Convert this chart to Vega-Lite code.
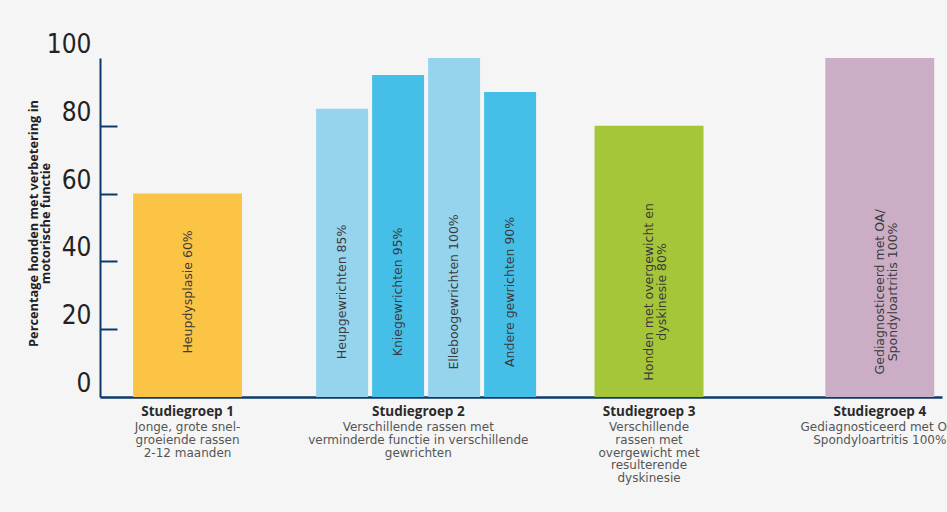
{
  "$schema": "https://vega.github.io/schema/vega-lite/v6.json",
  "autosize": {"type": "none"},
  "padding": {"left": 100, "top": 58, "right": 5, "bottom": 115},
  "width": 842,
  "height": 339,
  "background": "#f5f5f5",
  "view": {"stroke": null},
  "config": {"font": "Open Sans"},
  "datasets": {
    "balken": [
      {"groep": "Studiegroep 1", "balk": "Heupdysplasie", "sub": null, "label": "Heupdysplasie 60%", "waarde": 60},
      {"groep": "Studiegroep 2", "balk": "Heupgewrichten", "sub": "a", "label": "Heupgewrichten 85%", "waarde": 85},
      {"groep": "Studiegroep 2", "balk": "Kniegewrichten", "sub": "b", "label": "Kniegewrichten 95%", "waarde": 95},
      {"groep": "Studiegroep 2", "balk": "Elleboogewrichten", "sub": "c", "label": "Elleboogewrichten 100%", "waarde": 100},
      {"groep": "Studiegroep 2", "balk": "Andere gewrichten", "sub": "d", "label": "Andere gewrichten 90%", "waarde": 90},
      {"groep": "Studiegroep 3", "balk": "Overgewicht", "sub": null, "label": "Honden met overgewicht en\ndyskinesie 80%", "waarde": 80},
      {"groep": "Studiegroep 4", "balk": "OA", "sub": null, "label": "Gediagnosticeerd met OA/\nSpondyloartritis 100%", "waarde": 100}
    ],
    "beschrijvingen": [
      {"groep": "Studiegroep 1", "tekst": "Jonge, grote snel-\ngroeiende rassen\n2-12 maanden"},
      {"groep": "Studiegroep 2", "tekst": "Verschillende rassen met\nverminderde functie in verschillende\ngewrichten"},
      {"groep": "Studiegroep 3", "tekst": "Verschillende\nrassen met\novergewicht met\nresulterende\ndyskinesie"},
      {"groep": "Studiegroep 4", "tekst": "Gediagnosticeerd met OA/\nSpondyloartritis 100%"}
    ]
  },
  "encoding": {
    "x": {
      "field": "groep",
      "type": "nominal",
      "sort": null,
      "scale": {
        "domain": ["Studiegroep 1", "Studiegroep 2", "Studiegroep 3", "Studiegroep 4"],
        "paddingInner": 0.528,
        "paddingOuter": 0.0885,
        "align": 0.81
      },
      "axis": {
        "title": null,
        "labelAngle": 0,
        "labelFont": "Open Sans",
        "labelFontWeight": "bold",
        "labelFontSize": 13.5,
        "labelColor": "#2a2a2a",
        "labelPadding": 7,
        "ticks": false,
        "domainColor": "#0d3a6b",
        "domainWidth": 2.5
      }
    }
  },
  "layer": [
    {
      "data": {"name": "balken"},
      "transform": [{"filter": "datum.groep !== 'Studiegroep 2'"}],
      "mark": {"type": "bar"},
      "encoding": {
        "y": {
          "field": "waarde",
          "type": "quantitative",
          "scale": {"domain": [0, 100], "nice": false},
          "axis": {
            "values": [0, 20, 40, 60, 80, 100],
            "title": ["Percentage honden met verbetering in", "motorische functie"],
            "titleFont": "Open Sans",
            "titleFontSize": 12.8,
            "titleFontWeight": "bold",
            "titleColor": "#222",
            "titleAngle": -90,
            "titleX": -60,
            "titleY": 165,
            "titleAlign": "center",
            "titleBaseline": "bottom",
            "titleLineHeight": 12,
            "labelFont": "Liberation Sans Narrow, DejaVu Sans Condensed, sans-serif",
            "labelFontSize": 26,
            "labelColor": "#222",
            "labelPadding": 26,
            "labelOffset": -13.5,
            "labelBaseline": "middle",
            "grid": false,
            "tickSize": -17,
            "tickWidth": 2,
            "tickColor": "#0d3a6b",
            "tickOpacity": {"condition": {"test": "datum.value == 0 || datum.value == 100", "value": 0}, "value": 1},
            "domainColor": "#0d3a6b",
            "domainWidth": 2
          }
        },
        "color": {
          "field": "balk",
          "type": "nominal",
          "legend": null,
          "scale": {
            "domain": ["Heupdysplasie", "Heupgewrichten", "Kniegewrichten", "Elleboogewrichten", "Andere gewrichten", "Overgewicht", "OA"],
            "range": ["#fcc444", "#96d4ee", "#46bfe8", "#96d4ee", "#46bfe8", "#a6c63a", "#cbaec6"]
          }
        }
      }
    },
    {
      "data": {"name": "balken"},
      "transform": [{"filter": "datum.groep === 'Studiegroep 2'"}],
      "mark": {"type": "bar"},
      "encoding": {
        "xOffset": {
          "field": "sub",
          "type": "nominal",
          "scale": {"domain": ["a", "b", "c", "d"], "range": [-47.75, 172.25], "paddingInner": 0.0714, "paddingOuter": 0}
        },
        "y": {"field": "waarde", "type": "quantitative"},
        "color": {"field": "balk", "type": "nominal", "legend": null}
      }
    },
    {
      "data": {"name": "balken"},
      "transform": [{"filter": "datum.groep !== 'Studiegroep 2'"}],
      "mark": {"type": "text", "angle": 270, "align": "center", "baseline": "middle", "fontSize": 12.5, "color": "#3a3a3a", "lineBreak": "\n", "lineHeight": 13, "font": "DejaVu Sans"},
      "encoding": {
        "y": {"datum": 31, "type": "quantitative"},
        "text": {"field": "label"}
      }
    },
    {
      "data": {"name": "balken"},
      "transform": [{"filter": "datum.groep === 'Studiegroep 2'"}],
      "mark": {"type": "text", "angle": 270, "align": "center", "baseline": "middle", "fontSize": 12.5, "color": "#3a3a3a", "font": "DejaVu Sans"},
      "encoding": {
        "xOffset": {"field": "sub", "type": "nominal"},
        "y": {"datum": 31, "type": "quantitative"},
        "text": {"field": "label"}
      }
    },
    {
      "data": {"name": "beschrijvingen"},
      "mark": {"type": "text", "align": "center", "baseline": "top", "fontSize": 12, "color": "#555", "lineBreak": "\n", "lineHeight": 12.8, "dy": 25, "font": "DejaVu Sans"},
      "encoding": {
        "y": {"datum": 0, "type": "quantitative"},
        "text": {"field": "tekst"}
      }
    }
  ]
}
